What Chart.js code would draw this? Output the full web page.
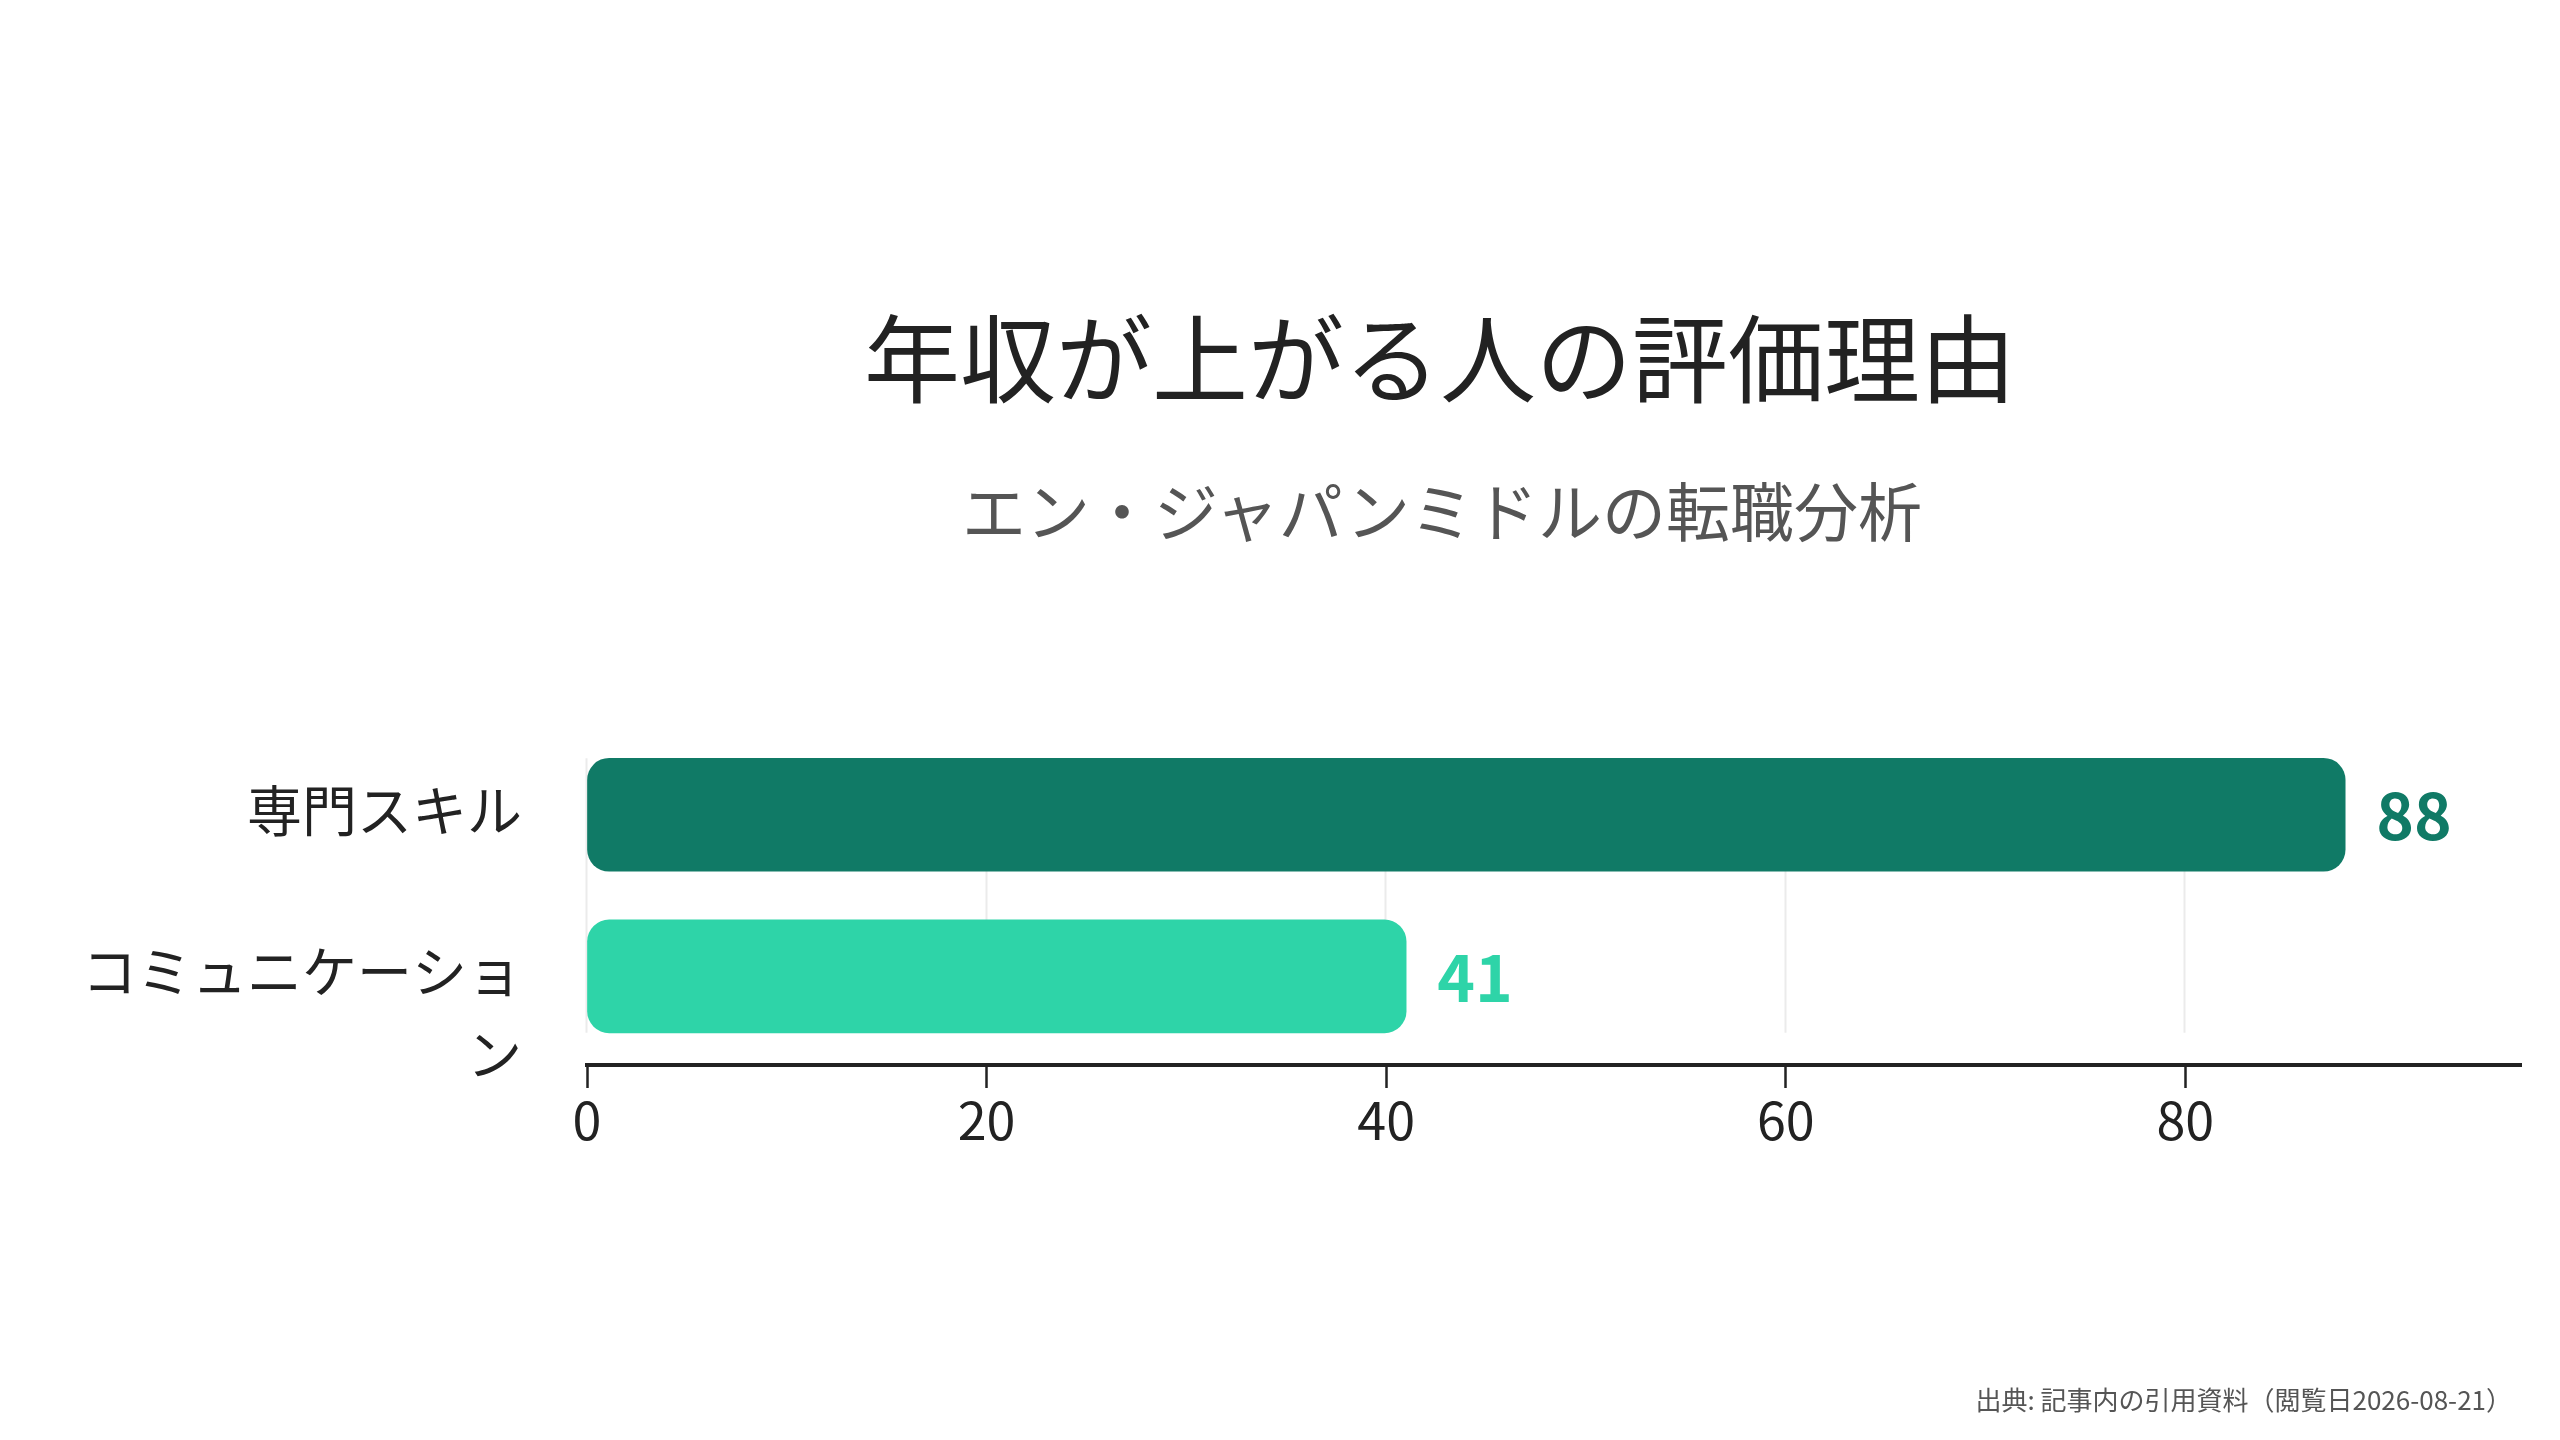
<!DOCTYPE html>
<html lang="ja">
<head>
<meta charset="utf-8">
<title>年収が上がる人の評価理由</title>
<script src="https://cdn.jsdelivr.net/npm/chart.js@4.4.1/dist/chart.umd.min.js"></script>
<style>
html, body { margin: 0; padding: 0; background: #ffffff; }
#wrap { position: relative; width: 2560px; height: 1440px; overflow: hidden; background: #ffffff;
        font-family: "Noto Sans CJK JP", "Noto Sans", sans-serif; }
#cw { position: absolute; left: 0; top: 0; width: 2560px; height: 1440px; }
.t { position: absolute; white-space: nowrap; line-height: 1; }
#title { left: 1440px; top: 306px; transform: translateX(-50%); font-size: 96px; color: #222222; font-weight: 400; }
#subtitle { left: 1442px; top: 476px; transform: translateX(-50%); font-size: 64px; color: #555555; font-weight: 400; }
#source { right: 48px; top: 1386px; font-size: 26px; color: #555555; }
</style>
</head>
<body>
<div id="wrap">
  <div id="cw"><canvas id="chart"></canvas></div>
  <div class="t" id="title">年収が上がる人の評価理由</div>
  <div class="t" id="subtitle">エン・ジャパンミドルの転職分析</div>
  <div class="t" id="source">出典: 記事内の引用資料（閲覧日2026-08-21）</div>
</div>
<script>
// ---- data ----
const categories = ['専門スキル', 'コミュニケーション'];
const values = [88, 41];
const barColors = ['#107A66', '#2ED4A8'];
const xTickValues = [0, 20, 40, 60, 80];

const FONT = '"Noto Sans CJK JP", "Noto Sans", sans-serif';

// wrap long category names (8 chars per line); first line stays on the bar centre
function wrapLabel(label) {
  const chars = Array.from(label);
  const lines = [];
  for (let i = 0; i < chars.length; i += 8) lines.push(chars.slice(i, i + 8).join(''));
  if (lines.length <= 1) return label;
  const pad = new Array(lines.length - 1).fill('');
  return pad.concat(lines);
}

const barSpanGrid = {
  id: 'barSpanGrid',
  beforeDatasetsDraw(chart) {
    const meta = chart.getDatasetMeta(0);
    const xs = chart.scales.x;
    let top = Infinity, bottom = -Infinity;
    meta.data.forEach(b => {
      const p = b.getProps(['y', 'height'], true);
      top = Math.min(top, p.y - p.height / 2);
      bottom = Math.max(bottom, p.y + p.height / 2);
    });
    const ctx = chart.ctx;
    ctx.save();
    ctx.strokeStyle = '#ebebeb';
    ctx.lineWidth = 2;
    xs.ticks.forEach(t => {
      const px = Math.round(xs.getPixelForValue(t.value)) - 0.5;
      ctx.beginPath();
      ctx.moveTo(px, top);
      ctx.lineTo(px, bottom);
      ctx.stroke();
    });
    ctx.restore();
  }
};

const valueLabels = {
  id: 'valueLabels',
  afterDatasetsDraw(chart) {
    const meta = chart.getDatasetMeta(0);
    const ctx = chart.ctx;
    ctx.save();
    ctx.font = 'bold 64px ' + FONT;
    ctx.textAlign = 'left';
    ctx.textBaseline = 'middle';
    meta.data.forEach((b, i) => {
      const p = b.getProps(['x', 'y'], true);
      ctx.fillStyle = barColors[i];
      ctx.fillText(String(values[i]), p.x + 31, p.y + 1);
    });
    ctx.restore();
  }
};

new Chart(document.getElementById('chart'), {
  type: 'bar',
  data: {
    labels: categories,
    datasets: [{
      data: values,
      backgroundColor: barColors,
      borderRadius: 22,
      borderSkipped: false,
      barThickness: 113
    }]
  },
  options: {
    indexAxis: 'y',
    responsive: true,
    maintainAspectRatio: false,
    animation: false,
    events: [],
    layout: { padding: { left: 0, right: 39, top: 734, bottom: 275 } },
    plugins: {
      legend: { display: false },
      title: { display: false },
      tooltip: { enabled: false }
    },
    scales: {
      x: {
        type: 'linear',
        min: 0,
        max: Math.max(...values) * 1.1,
        afterBuildTicks: s => { s.ticks = xTickValues.map(v => ({ value: v })); },
        afterFit: s => { s.height = 100; },
        grid: {
          display: true,
          drawOnChartArea: false,
          drawTicks: true,
          tickLength: 23,
          tickWidth: 2.5,
          tickColor: '#222222',
          color: '#222222'
        },
        border: { display: true, color: '#222222', width: 4 },
        ticks: { padding: 1, autoSkip: false, color: '#222222', font: { family: FONT, size: 52 } }
      },
      y: {
        type: 'category',
        offset: true,
        afterBuildTicks: s => { if (typeof s._valueRange === 'number') s._valueRange += 0.049; },
        afterFit: s => { s.width = 587; },
        grid: { display: false, drawTicks: false },
        border: { display: false },
        ticks: {
          padding: 65,
          labelOffset: -5,
          autoSkip: false,
          color: '#222222',
          font: { family: FONT, size: 55, lineHeight: 1.51 },
          callback: function (v) { return wrapLabel(this.getLabelForValue(v)); }
        }
      }
    }
  },
  plugins: [barSpanGrid, valueLabels]
});
</script>
</body>
</html>
